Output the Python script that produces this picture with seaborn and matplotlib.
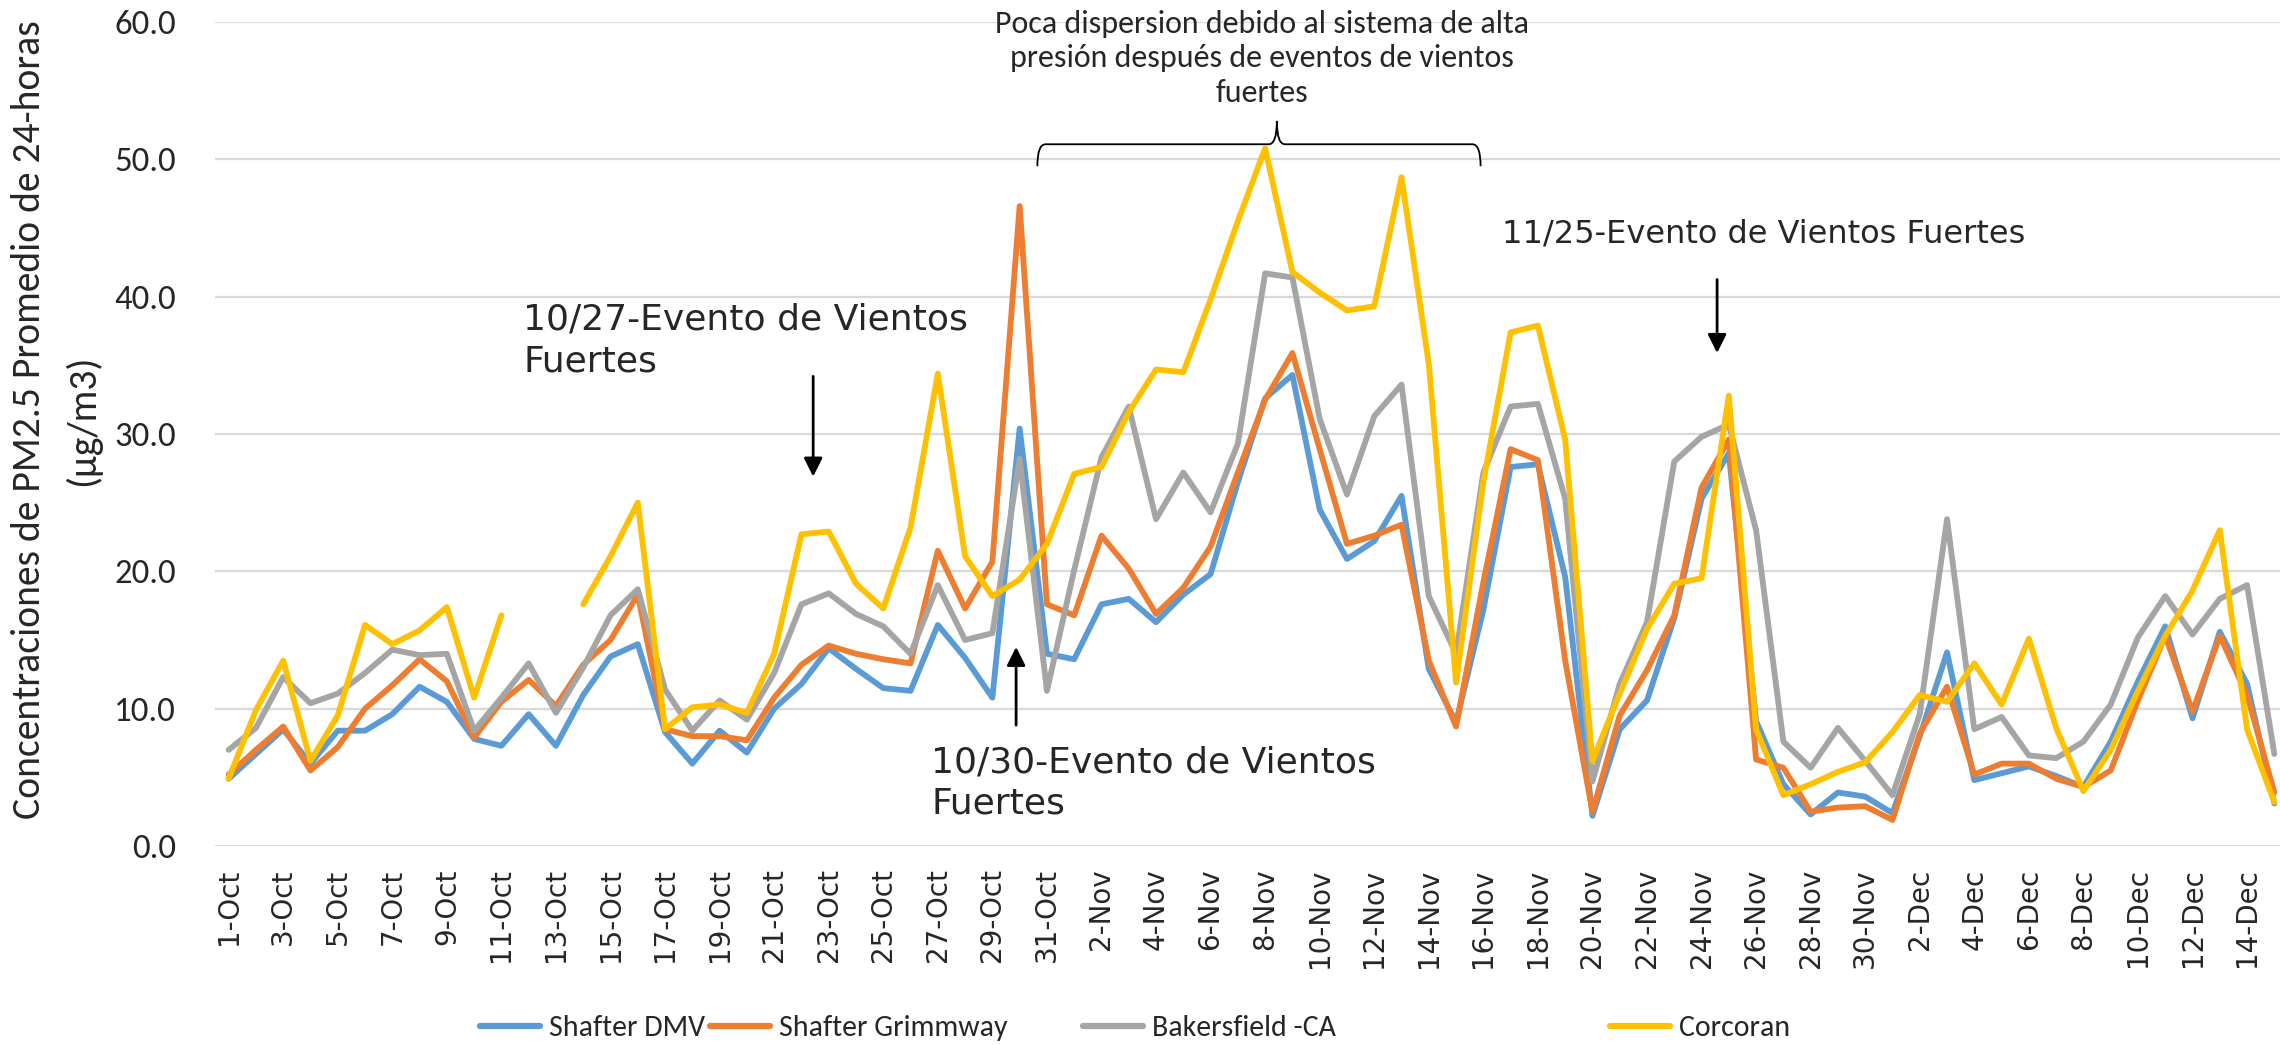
import numpy as np
import pandas as pd
import matplotlib
matplotlib.use("Agg")
import matplotlib.pyplot as plt
import seaborn as sns
from matplotlib.path import Path
from matplotlib.patches import PathPatch
from matplotlib.lines import Line2D

# --- data (daily 24-h PM2.5, ug/m3) ---
DATES = pd.date_range("2019-10-01", "2019-12-15", freq="D")
DAY_LABELS = [f"{d.day}-{d.strftime('%b')}" for d in DATES]

STATIONS = ["Shafter DMV", "Shafter Grimmway", "Bakersfield -CA", "Corcoran"]
COLORS = ["#5B9BD5", "#ED7D31", "#A5A5A5", "#FFC000"]

shafter_dmv = [4.9, 6.7, 8.5, 6.0, 8.4, 8.4, 9.6, 11.6, 10.5, 7.8, 7.3, 9.6, 7.3, 11.0, 13.8, 14.7,
               8.3, 6.0, 8.4, 6.8, 10.0, 11.8, 14.4, 12.9, 11.5, 11.3, 16.1, 13.7, 10.8, 30.4, 14.0,
               13.6, 17.6, 18.0, 16.3, 18.3, 19.8, 26.5, 32.6, 34.3, 24.5, 20.9, 22.2, 25.5, 12.9,
               9.0, 17.2, 27.6, 27.8, 19.6, 2.2, 8.5, 10.6, 16.6, 25.3, 28.6, 9.1, 4.5, 2.3, 3.9,
               3.6, 2.4, 8.0, 14.1, 4.8, 5.3, 5.8, 5.1, 4.3, 7.6, 12.0, 16.0, 9.3, 15.6, 11.8, 3.1]
shafter_grimmway = [5.2, 7.0, 8.7, 5.5, 7.2, 10.0, 11.7, 13.6, 12.0, 7.9, 10.5, 12.1, 10.2, 13.2, 15.0,
                    18.3, 8.5, 8.0, 8.0, 7.7, 10.8, 13.2, 14.6, 14.0, 13.6, 13.3, 21.5, 17.3, 20.7,
                    46.6, 17.6, 16.8, 22.6, 20.2, 16.9, 18.8, 21.8, 27.2, 32.5, 35.9, 28.9, 22.0,
                    22.6, 23.4, 13.5, 8.7, 19.2, 28.9, 28.1, 13.5, 2.5, 9.5, 12.8, 16.8, 26.1, 29.6,
                    6.3, 5.7, 2.5, 2.8, 2.9, 1.9, 8.2, 11.6, 5.2, 6.0, 6.0, 4.9, 4.3, 5.5, 10.6,
                    15.3, 9.8, 15.3, 11.0, 3.9]
bakersfield = [7.0, 8.6, 12.3, 10.4, 11.1, 12.6, 14.3, 13.9, 14.0, 8.4, 10.8, 13.3, 9.7, 13.0, 16.8,
               18.7, 11.4, 8.4, 10.6, 9.2, 12.6, 17.6, 18.4, 16.9, 16.0, 14.0, 19.0, 15.0, 15.5,
               28.2, 11.3, 20.1, 28.3, 32.0, 23.8, 27.2, 24.3, 29.3, 41.7, 41.4, 31.1, 25.6, 31.3,
               33.6, 18.2, 14.0, 27.2, 32.0, 32.2, 25.3, 4.7, 11.8, 16.3, 28.0, 29.8, 30.7, 23.0,
               7.6, 5.7, 8.6, 6.2, 3.7, 9.6, 23.8, 8.5, 9.4, 6.6, 6.4, 7.6, 10.3, 15.2, 18.2,
               15.4, 18.0, 19.0, 6.7]
corcoran = [4.9, 9.9, 13.5, 6.2, 9.5, 16.1, 14.7, 15.7, 17.4, 10.8, 16.8, np.nan, np.nan, 17.6, 21.1,
            25.0, 8.5, 10.1, 10.3, 9.7, 14.0, 22.7, 22.9, 19.1, 17.3, 23.2, 34.4, 21.1, 18.2, 19.4,
            22.0, 27.1, 27.6, 31.6, 34.7, 34.5, 39.8, 45.5, 50.8, 41.8, 40.3, 39.0, 39.3, 48.7,
            35.1, 11.9, 26.5, 37.4, 37.9, 29.6, 6.2, 11.1, 15.8, 19.1, 19.5, 32.8, 8.5, 3.7, 4.5,
            5.4, 6.1, 8.3, 11.0, 10.5, 13.3, 10.3, 15.1, 8.6, 4.0, 7.0, 11.3, 15.3, 18.6, 23.0,
            8.5, 3.2]

wide = pd.DataFrame({"idx": np.arange(len(DATES)),
                     STATIONS[0]: shafter_dmv, STATIONS[1]: shafter_grimmway,
                     STATIONS[2]: bakersfield, STATIONS[3]: corcoran})
data = wide.melt(id_vars="idx", var_name="station", value_name="pm25")
# split series at missing days so the line shows a gap
data["seg"] = data.groupby("station")["pm25"].transform(lambda s: s.isna().cumsum())

sns.set_style("white")
plt.rcParams["font.family"] = ["DejaVu Sans"]
CAL = ["Carlito", "DejaVu Sans"]

fig = plt.figure(figsize=(22.8, 10.45), dpi=100)
ax = fig.add_axes([0.0943, 0.1904, 0.9092, 0.7885])

sns.lineplot(data=data, x="idx", y="pm25", hue="station", hue_order=STATIONS,
             units="seg", estimator=None, palette=COLORS, linewidth=4.2,
             legend=False, ax=ax, solid_joinstyle="round", solid_capstyle="round")

ax.set_xlim(-0.5, len(DATES) - 0.5)
ax.set_ylim(0, 60)
ax.set_yticks(np.arange(0, 61, 10))
ax.set_yticklabels([f"{v:.1f}" for v in np.arange(0, 61, 10)], fontfamily=CAL, fontsize=25)
ax.set_xticks(np.arange(0, len(DATES), 2))
ax.set_xticklabels(DAY_LABELS[::2], rotation=90, fontsize=20)
ax.tick_params(axis="x", length=0, pad=16)
ax.tick_params(axis="y", length=0, pad=28)
ax.grid(axis="y", color="#D9D9D9", linewidth=1.6)
ax.set_axisbelow(True)
for s in ax.spines.values():
    s.set_visible(False)

ax.set_xlabel("")
ax.set_ylabel("Concentraciones de PM2.5 Promedio de 24-horas\n(µg/m3)",
              fontfamily=CAL, fontsize=28.5, linespacing=1.56)
ax.yaxis.set_label_coords(-0.0548, 0.517)

# --- annotations ---
arrow = dict(arrowstyle="-|>", color="black", lw=2, mutation_scale=28, shrinkA=0, shrinkB=0)
ax.text(10.8, 36.8, "10/27-Evento de Vientos\nFuertes", fontsize=26, ha="left", va="center",
        linespacing=1.28)
ax.annotate("", xy=(21.43, 26.9), xytext=(21.43, 34.2), arrowprops=arrow)
ax.text(25.76, 4.6, "10/30-Evento de Vientos\nFuertes", fontsize=26, ha="left", va="center",
        linespacing=1.28)
ax.annotate("", xy=(28.87, 14.5), xytext=(28.87, 8.8), arrowprops=arrow)
ax.text(46.7, 44.6, "11/25-Evento de Vientos Fuertes", fontsize=23, ha="left", va="center")
ax.annotate("", xy=(54.57, 35.9), xytext=(54.57, 41.25), arrowprops=arrow)

ax.text(37.9, 57.35, "Poca dispersion debido al sistema de alta\npresión después de eventos de vientos\nfuertes",
        fontfamily=CAL, fontsize=23, ha="center", va="center", linespacing=1.3, clip_on=False)

# curly brace over the high-pressure period
bl, bc, br = 29.65, 38.43, 45.9
by, bend, btip = 51.1, 49.5, 52.8
verts = [(bl, bend), (bl, by), (bl + 0.3, by), (bc - 0.3, by), (bc, by), (bc, btip),
         (bc, btip), (bc, by), (bc + 0.3, by), (br - 0.3, by), (br, by), (br, bend)]
codes = [Path.MOVETO, Path.CURVE3, Path.CURVE3, Path.LINETO, Path.CURVE3, Path.CURVE3,
         Path.MOVETO, Path.CURVE3, Path.CURVE3, Path.LINETO, Path.CURVE3, Path.CURVE3]
ax.add_patch(PathPatch(Path(verts, codes), fill=False, edgecolor="black", lw=1.3, clip_on=False))

# legend, one entry at a time to keep the spacing of the original
LEG_X = [480, 710, 1083, 1610]
for name, col, x in zip(STATIONS, COLORS, LEG_X):
    h = Line2D([], [], color=col, lw=4.5, solid_capstyle="round")
    fig.legend([h], [name], loc="center left", bbox_to_anchor=(x / 2280, 0.016),
               frameon=False, prop={"family": CAL, "size": 21.5}, handlelength=2.0,
               handletextpad=0.3, borderpad=0, borderaxespad=0)

fig.savefig("out.png", dpi=100)
